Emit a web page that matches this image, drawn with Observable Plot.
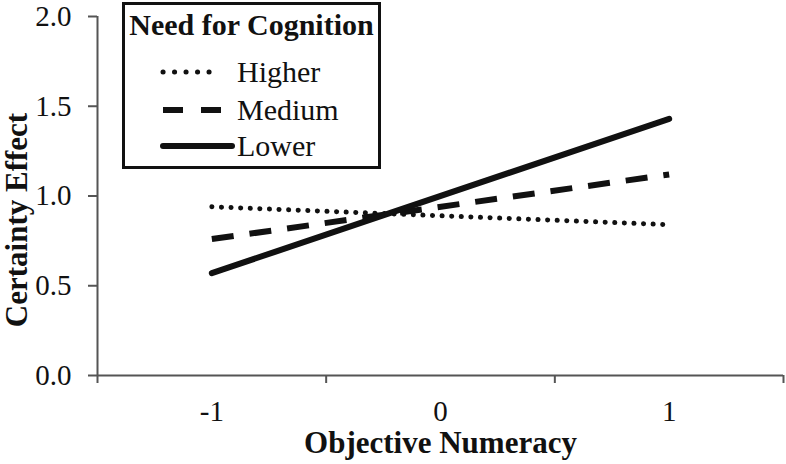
<!DOCTYPE html>
<html>
<head>
<meta charset="utf-8">
<script src="https://cdn.jsdelivr.net/npm/d3@7"></script>
<script src="https://cdn.jsdelivr.net/npm/@observablehq/plot@0.6"></script>
<style>
  body { margin: 0; background: white; }
  #wrap { position: relative; width: 786px; height: 464px; font-family: "Liberation Serif"; color: #111; }
  #wrap svg, #wrap svg text { font-family: "Liberation Serif" !important; }
  #legend { position: absolute; left: 122px; top: 2px; width: 253px; height: 161px; border: 3px solid #111; background: white; }
  #legend svg { display: block; }
</style>
</head>
<body>
<div id="wrap"></div>
<script>
// ---- data ----
const groups = ["Higher", "Medium", "Lower"];
const xValues = [-1, 1];
const higher = [0.94, 0.84];
const medium = [0.76, 1.12];
const lower = [0.57, 1.43];
const yTicks = [0, 0.5, 1, 1.5, 2];
const xTickLabels = [-1, 0, 1];
const xBoundaryTicks = [-1.5, -0.5, 0.5, 1.5];
const xTitle = "Objective Numeracy";
const yTitle = "Certainty Effect";
const legendTitle = "Need for Cognition";

const seriesValues = {Higher: higher, Medium: medium, Lower: lower};
const dashes = {Higher: "0.1 9.5", Medium: "22 16", Lower: null};
const legendDashes = {Higher: "0.1 11.4", Medium: "20 18", Lower: null};
const caps = {Higher: "round", Medium: "butt", Lower: "round"};
const widths = {Higher: 5, Medium: 6, Lower: 6};

const rows = groups.flatMap(g => xValues.map((x, i) => ({group: g, x, y: seriesValues[g][i]})));

const axisColor = "#555";
const chart = Plot.plot({
  width: 786, height: 464,
  marginLeft: 97, marginRight: 3, marginTop: 16, marginBottom: 89,
  style: {fontFamily: "Liberation Serif", fontSize: "29px", color: "#111", background: "white"},
  x: {domain: [-1.5, 1.5]},
  y: {domain: [0, 2]},
  marks: [
    Plot.axisY({ticks: yTicks, tickFormat: d3.format(".1f"), tickSize: 9, tickPadding: 17, stroke: axisColor, strokeWidth: 2, label: null, fontSize: 29}),
    Plot.axisX({ticks: xBoundaryTicks, tickFormat: () => "", tickSize: 8, stroke: axisColor, strokeWidth: 2, label: null}),
    Plot.axisX({ticks: xTickLabels, tickFormat: d => String(d), tickSize: 0, tickPadding: 25, label: null, fontSize: 29}),
    Plot.ruleX([-1.5], {stroke: axisColor, strokeWidth: 2}),
    Plot.ruleY([0], {stroke: axisColor, strokeWidth: 2}),
    ...groups.map(g => Plot.line(rows.filter(d => d.group === g), {
      x: "x", y: "y", stroke: "#111", strokeWidth: widths[g],
      strokeDasharray: dashes[g], strokeLinecap: caps[g]
    })),
    Plot.text([xTitle], {frameAnchor: "bottom", lineAnchor: "middle", textAnchor: "middle", dy: 68, fontWeight: "bold", fontSize: 31, fill: "#111"}),
    Plot.text([yTitle], {frameAnchor: "left", lineAnchor: "middle", textAnchor: "middle", rotate: -90, dx: -80, dy: 24, fontWeight: "bold", fontSize: 31, fill: "#111"})
  ]
});
const wrap = document.getElementById("wrap");
wrap.appendChild(chart);

// ---- legend ----
const legend = document.createElement("div");
legend.id = "legend";
const lw = 253, lh = 161;
const svg = d3.create("svg").attr("width", lw).attr("height", lh);
svg.append("text").attr("x", lw / 2).attr("y", 30).attr("text-anchor", "middle")
  .attr("font-weight", "bold").attr("font-size", 30).attr("fill", "#111")
  .attr("font-family", "Liberation Serif").text(legendTitle);
const lineY = [67, 105, 141];
const lineEnd = {Higher: 95, Medium: 96, Lower: 107};
groups.forEach((g, i) => {
  const cy = lineY[i];
  svg.append("line").attr("x1", 38).attr("x2", lineEnd[g]).attr("y1", cy).attr("y2", cy)
    .attr("stroke", "#111").attr("stroke-width", widths[g]).attr("stroke-linecap", caps[g])
    .attr("stroke-dasharray", legendDashes[g] || null);
  svg.append("text").attr("x", 112).attr("y", cy + 10).attr("font-size", 30).attr("fill", "#111")
    .attr("font-family", "Liberation Serif").text(g);
});
legend.appendChild(svg.node());
wrap.appendChild(legend);
</script>
</body>
</html>
